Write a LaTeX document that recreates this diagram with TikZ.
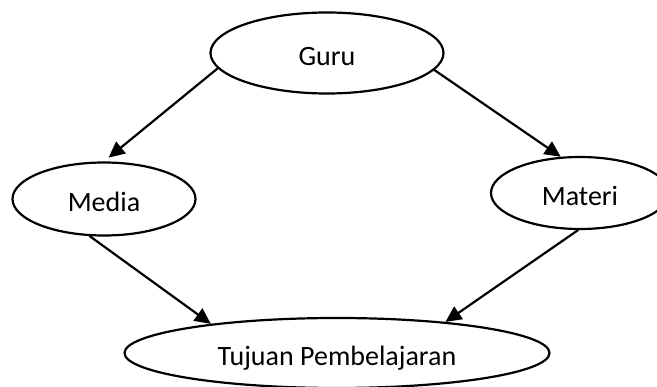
\documentclass[tikz,border=0pt]{standalone}
\usepackage{fontspec}
\setmainfont{Carlito}
\usetikzlibrary{shapes.geometric,arrows.meta}
\tikzset{
  blob/.style={draw=black, ellipse, line width=2.2pt, inner sep=0pt,
    text height=28pt, text depth=2pt,
    font=\fontsize{28}{32}\selectfont},
  flow/.style={black, line width=2.2pt, -{Triangle[length=16pt,width=15pt]}}
}
\begin{document}
\begin{tikzpicture}[x=1pt,y=-1pt,line cap=round,line join=round]
\useasboundingbox (0,0) rectangle (657,387);
\node[blob, minimum width=233pt, minimum height=81pt] (guru) at (327,53) {Guru};
\node[blob, minimum width=183pt, minimum height=73pt] (media) at (104,199) {Media};
\node[blob, minimum width=178pt, minimum height=72pt] (materi) at (580,193) {Materi};
\node[blob, minimum width=425pt, minimum height=70pt] (tujuan) at (337,353) {Tujuan Pembelajaran};
% panah
\draw[flow, shorten >=6pt] (guru.188) -- (media.north);
\draw[flow] (guru.-9) -- (materi.118);
\draw[flow] (media.249) -- (tujuan.167);
\draw[flow] (materi.267) -- (tujuan.16);
\end{tikzpicture}
\end{document}
